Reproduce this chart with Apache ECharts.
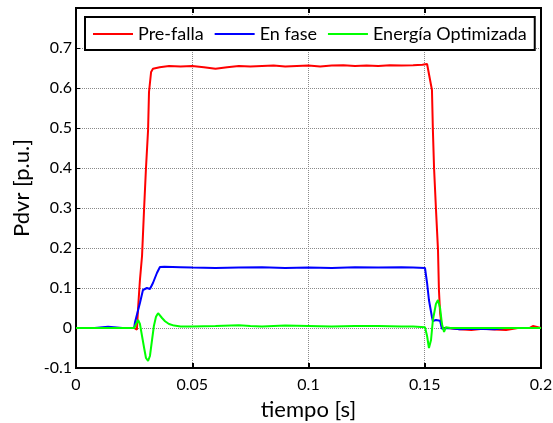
<!DOCTYPE html>
<html>
<head>
<meta charset="utf-8">
<script src="https://cdn.jsdelivr.net/npm/echarts@6/dist/echarts.min.js"></script>
<style>
  html, body { margin: 0; padding: 0; background: #fff; }
  #chart { width: 553px; height: 423px; }
</style>
</head>
<body>
<div id="chart"></div>
<script>
// Power delivered by the DVR during the sag, three compensation strategies
const seriesNames = ['Pre-falla', 'En fase', 'Energía Optimizada'];
const xTicks = [0, 0.05, 0.1, 0.15, 0.2];

// Pre-falla
const tPre = [0, 0.010, 0.020, 0.0250, 0.0256, 0.0262, 0.0267, 0.0275, 0.0284, 0.0293, 0.0301, 0.0310, 0.0314, 0.0323, 0.0331,
  0.036, 0.040, 0.045, 0.050, 0.055, 0.060, 0.065, 0.070, 0.075, 0.080, 0.085, 0.090, 0.095, 0.100, 0.105, 0.110,
  0.115, 0.120, 0.125, 0.130, 0.135, 0.140, 0.145, 0.149, 0.1510, 0.1531, 0.1535, 0.1540, 0.1548, 0.1557, 0.1561,
  0.1566, 0.1574, 0.158, 0.160, 0.165, 0.170, 0.175, 0.180, 0.185, 0.190, 0.195, 0.1955, 0.1965, 0.197, 0.200];
const vPre = [0, 0, 0, 0, -0.005, -0.004, 0.05, 0.12, 0.18, 0.30, 0.40, 0.495, 0.59, 0.64, 0.648,
  0.652, 0.655, 0.654, 0.655, 0.652, 0.648, 0.652, 0.655, 0.654, 0.655, 0.656, 0.654, 0.655, 0.656, 0.654, 0.656,
  0.657, 0.655, 0.656, 0.655, 0.657, 0.656, 0.657, 0.658, 0.660, 0.595, 0.495, 0.40, 0.30, 0.195, 0.095,
  0.0375, 0.0, -0.003, 0, -0.003, -0.005, -0.002, -0.004, -0.005, 0, 0, 0.005, 0.005, 0, 0];

// En fase
const tFase = [0, 0.0080, 0.0082, 0.0138, 0.0140, 0.020, 0.0250, 0.0254, 0.0275, 0.0288, 0.0305, 0.0318, 0.0331, 0.0348, 0.0361,
  0.038, 0.045, 0.050, 0.060, 0.070, 0.080, 0.090, 0.100, 0.110, 0.120, 0.130, 0.140, 0.145, 0.1501, 0.1510,
  0.1518, 0.1531, 0.1535, 0.1548, 0.1566, 0.1574, 0.160, 0.165, 0.170, 0.180, 0.185, 0.200];
const vFase = [0, 0, 0.003, 0.003, 0, 0, 0, 0.015, 0.0625, 0.095, 0.10, 0.0975, 0.1125, 0.1375, 0.1525,
  0.153, 0.152, 0.151, 0.150, 0.151, 0.152, 0.150, 0.151, 0.150, 0.152, 0.151, 0.152, 0.151, 0.150, 0.1125,
  0.07, 0.0275, 0.0175, 0.02, 0.018, -0.002, 0, -0.003, -0.002, -0.003, 0, 0];

// Energía Optimizada
const tOpt = [0, 0.025, 0.0258, 0.0267, 0.0275, 0.0284, 0.0293, 0.0301, 0.0310, 0.0318, 0.0327, 0.0335, 0.0344, 0.0353,
  0.0361, 0.0370, 0.0383, 0.0400, 0.0422, 0.045, 0.050, 0.060, 0.070, 0.075, 0.080, 0.090, 0.100, 0.110, 0.120,
  0.130, 0.140, 0.145, 0.1501, 0.1510, 0.1518, 0.1527, 0.1535, 0.1548, 0.1557, 0.1566, 0.1574, 0.1583, 0.1591,
  0.161, 0.170, 0.200];
const vOpt = [0, 0, 0.01, 0.02, 0.01, -0.02, -0.05, -0.075, -0.082, -0.07, -0.03, 0.005, 0.028, 0.037,
  0.033, 0.025, 0.017, 0.01, 0.006, 0.004, 0.004, 0.005, 0.007, 0.005, 0.004, 0.006, 0.005, 0.004, 0.005,
  0.005, 0.004, 0.004, 0.002, -0.02, -0.05, -0.03, 0.02, 0.06, 0.07, 0.05, 0.01, -0.01, 0.002,
  0, 0, 0];

const pairs = (t, v) => t.map((x, i) => [x, v[i]]);
const colors = ['#ff0000', '#0000ff', '#00ff00'];
const font = 'Lato, "Open Sans", sans-serif';

const chart = echarts.init(document.getElementById('chart'), null, { renderer: 'canvas' });

const gridLine = { show: true, lineStyle: { color: '#8a8a8a', type: 'dotted', width: 1 } };

chart.setOption({
  animation: false,
  backgroundColor: '#fff',
  color: colors,
  textStyle: { fontFamily: font, color: '#000' },
  grid: { left: 76, right: 12, top: 8, bottom: 55, show: true, borderColor: '#000', borderWidth: 2,
    outerBoundsMode: 'none', containLabel: false },
  legend: {
    left: 85, top: 17,
    padding: [8, 8, 7, 8],
    itemWidth: 40, itemHeight: 2, itemGap: 11,
    icon: 'rect',
    backgroundColor: '#fff', borderColor: '#000', borderWidth: 2,
    textStyle: { fontFamily: font, fontSize: 18, color: '#000' },
    data: seriesNames
  },
  xAxis: [{
    type: 'value', min: 0, max: 0.2, interval: 0.05,
    name: 'tiempo [s]', nameLocation: 'middle', nameGap: 31,
    nameTextStyle: { fontSize: 22, color: '#000', fontFamily: font },
    axisLine: { show: true, onZero: false, lineStyle: { color: '#000', width: 2 } },
    axisTick: { show: true, inside: true, length: 5, lineStyle: { color: '#000', width: 2 } },
    axisLabel: { fontSize: 16, color: '#000', margin: 9, formatter: v => String(+v.toFixed(2)) },
    splitLine: gridLine
  }, {
    type: 'value', min: 0, max: 0.2, interval: 0.05, position: 'top',
    axisLine: { show: true, onZero: false, lineStyle: { color: '#000', width: 2 } },
    axisTick: { show: true, inside: true, length: 5, lineStyle: { color: '#000', width: 2 } },
    axisLabel: { show: false }, splitLine: { show: false }
  }],
  yAxis: [{
    type: 'value', min: -0.1, max: 0.8, interval: 0.1,
    name: 'Pdvr [p.u.]', nameLocation: 'middle', nameGap: 36,
    nameTextStyle: { fontSize: 22, color: '#000', fontFamily: font },
    axisLine: { show: true, onZero: false, lineStyle: { color: '#000', width: 2 } },
    axisTick: { show: true, inside: true, length: 4, lineStyle: { color: '#000', width: 1 } },
    axisLabel: { fontSize: 16, color: '#000', margin: 4,
      formatter: v => (v > 0.75 ? '' : String(+v.toFixed(2))) },
    splitLine: gridLine
  }, {
    type: 'value', min: -0.1, max: 0.8, interval: 0.1, position: 'right',
    axisLine: { show: true, onZero: false, lineStyle: { color: '#000', width: 2 } },
    axisTick: { show: false }, axisLabel: { show: false }, splitLine: { show: false }
  }],
  series: [
    { name: seriesNames[0], type: 'line', data: pairs(tPre, vPre), showSymbol: false, symbol: 'none',
      lineStyle: { width: 2, color: colors[0] } },
    { name: seriesNames[1], type: 'line', data: pairs(tFase, vFase), showSymbol: false, symbol: 'none',
      lineStyle: { width: 2, color: colors[1] } },
    { name: seriesNames[2], type: 'line', data: pairs(tOpt, vOpt), showSymbol: false, symbol: 'none',
      lineStyle: { width: 2, color: colors[2] } }
  ]
});
</script>
</body>
</html>
